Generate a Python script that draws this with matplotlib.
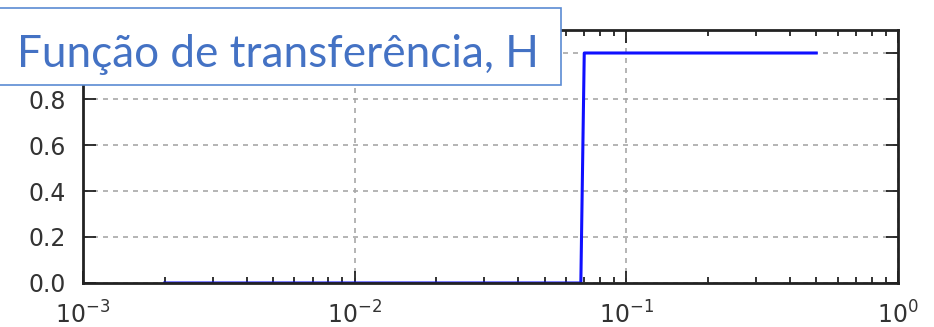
import numpy as np
import matplotlib.pyplot as plt
from matplotlib.patches import Rectangle

# Função de transferência (passa-alta ideal)
freq = [0.002, 0.068, 0.070, 0.5]
ganho = [0.0, 0.0, 1.0, 1.0]
y_ticks = [0.0, 0.2, 0.4, 0.6, 0.8, 1.0]
titulo = "Função de transferência, H"

W, H = 934, 327
fig = plt.figure(figsize=(W / 100, H / 100), dpi=100)
ax = fig.add_axes([83 / W, (H - 283) / H, (898 - 83) / W, (283 - 30) / H])

ax.plot(freq, ganho, color="#1010ff", linewidth=2.2)
ax.set_xscale("log")
ax.set_xlim(1e-3, 1e0)
ax.set_ylim(0, 1.1)
ax.set_yticks(y_ticks)
# o rótulo 1.0 fica escondido atrás da caixa de título
ax.set_yticklabels([f"{v:.1f}" if v < 1 else "" for v in y_ticks])

ax.grid(True, which="major", color="#a8a8a8", linestyle=(0, (3, 3)), linewidth=1.2)
for s in ax.spines.values():
    s.set_linewidth(2.0)
    s.set_color("#222222")
ax.tick_params(which="both", direction="in", top=True, right=True, colors="#222222",
               labelcolor="#333333", labelsize=17, width=1.3)
ax.tick_params(which="major", length=9)
ax.tick_params(axis="y", which="major", pad=12)
ax.tick_params(axis="x", which="major", pad=13)
ax.tick_params(which="minor", length=4.5)

# caixa de título sobreposta
fig.patches.append(Rectangle((-2 / W, (H - 85) / H), 563 / W, 77 / H,
                             transform=fig.transFigure, facecolor="white",
                             edgecolor="#5b8bd3", linewidth=1.2, zorder=5))
fig.text(17 / W, (H - 67) / H, titulo, fontsize=31.8, color="#4472c4",
         family="Lato", va="baseline", ha="left", zorder=6)

plt.savefig("out.png", dpi=100)
plt.close()
